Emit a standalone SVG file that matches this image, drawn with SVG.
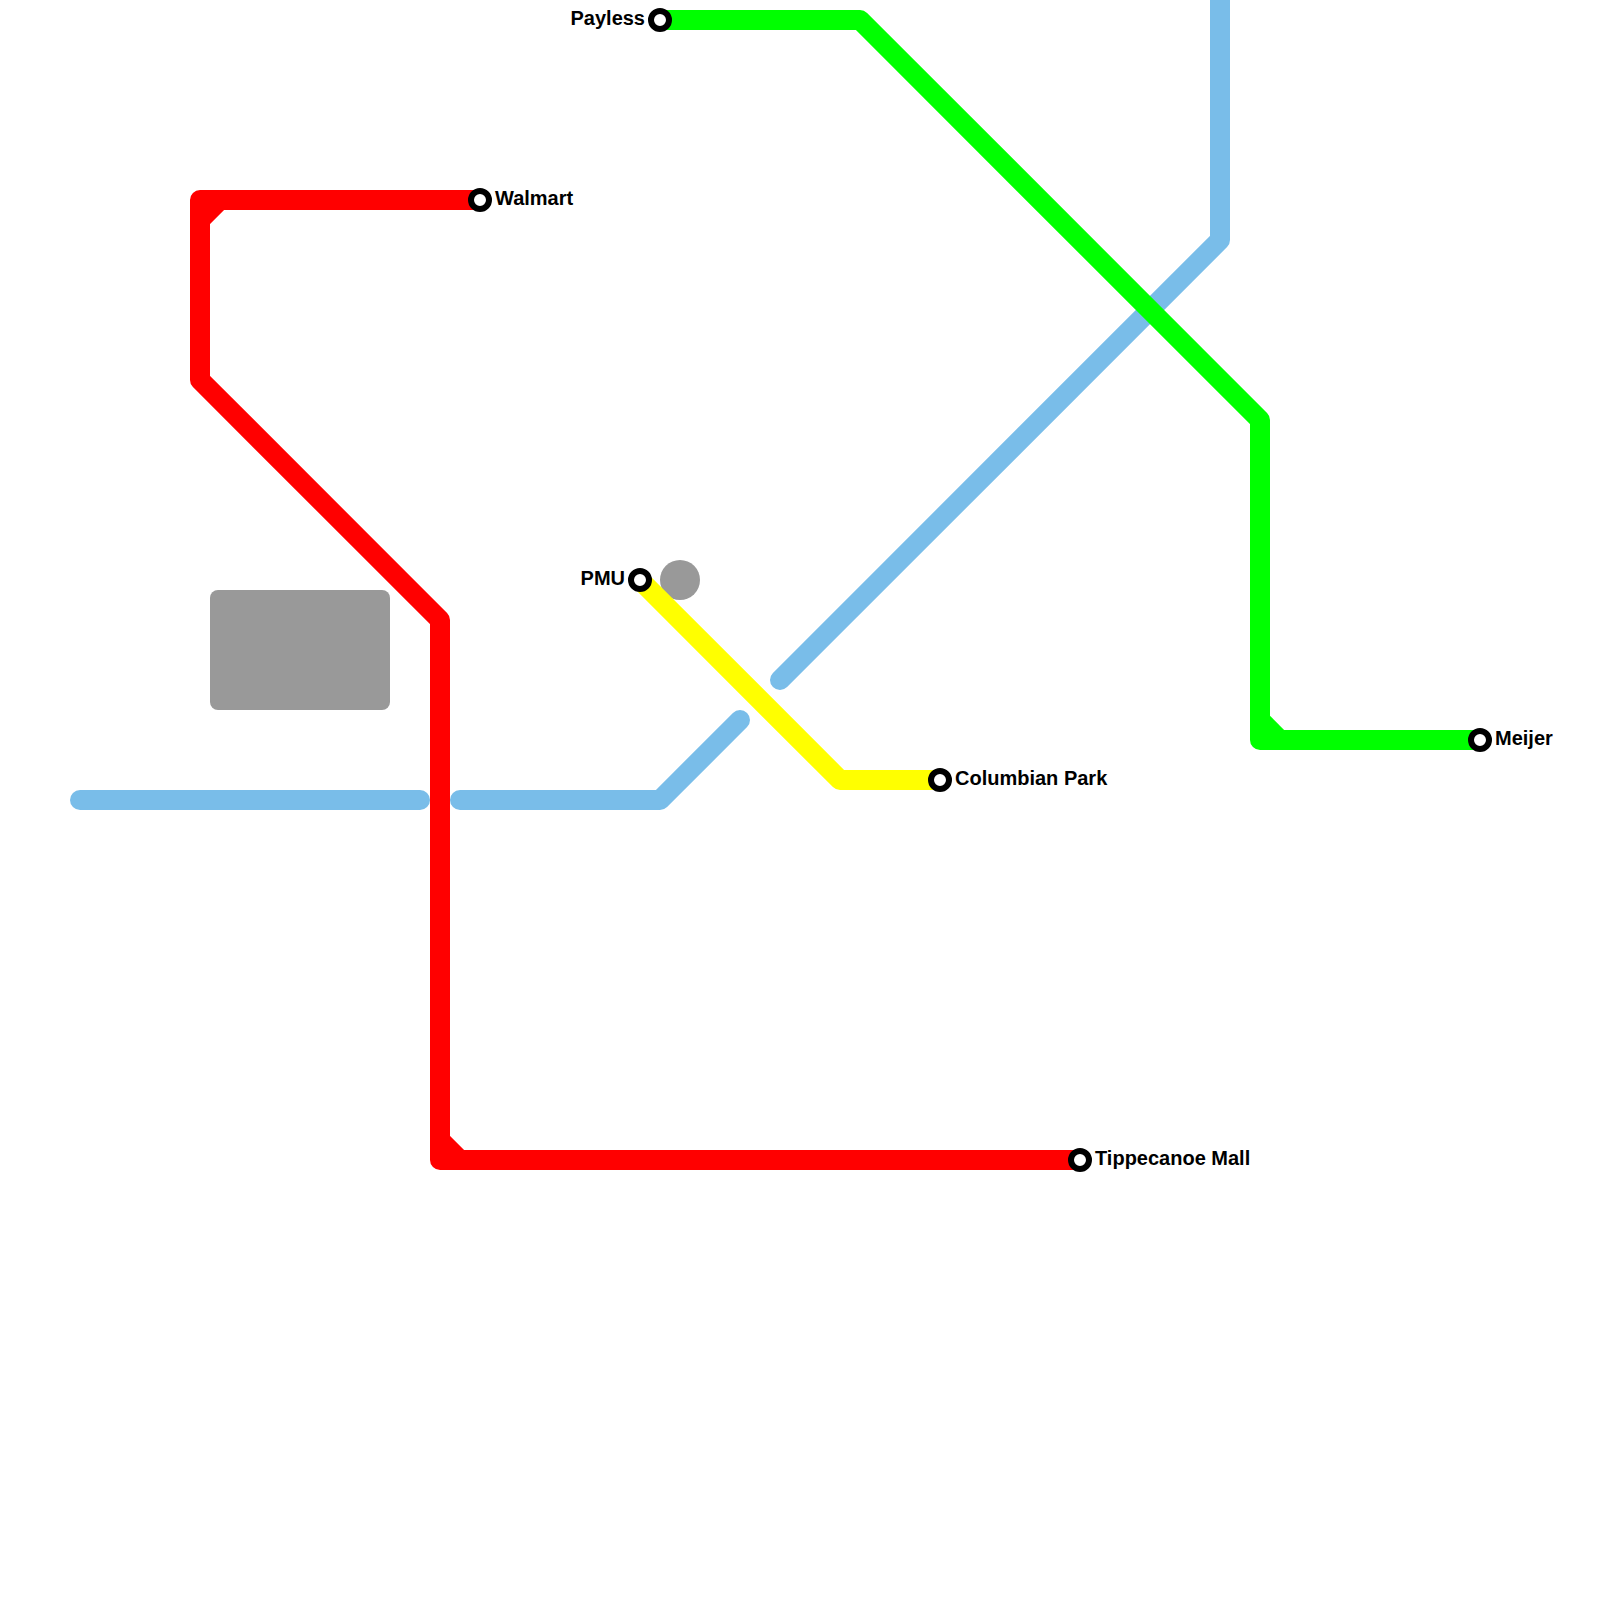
<svg xmlns="http://www.w3.org/2000/svg" width="1600" height="1600" viewBox="0 0 1600 1600">
<style>
.l{fill:none;stroke-width:20;stroke-linejoin:round;stroke-linecap:round}
.r{stroke:#ff0000}.g{stroke:#00ff00}.b{stroke:#79bde9}.y{stroke:#ffff00}
.s{fill:#fff;stroke:#000;stroke-width:6}
text{font-family:"Liberation Sans",Arial,sans-serif;font-size:20px;font-weight:bold;fill:#000}
</style>
<rect width="1600" height="1600" fill="#fff"/>
<g id="facilities">
<rect x="210" y="590" width="180" height="120" rx="8" fill="#999"/>
<circle cx="680" cy="580" r="20" fill="#999"/>
</g>
<g id="connectors">
<path class="l b" d="M80 800H420"/>
<path class="l b" d="M460 800H660L740 720"/>
<path class="l b" d="M780 680L1220 240V0"/>
<path class="l r" d="M480 200H200V380L440 620V1160H1080"/>
<path class="l r" d="M200 220L220 200M440 1140L460 1160"/>
<path class="l g" d="M660 20H860L1260 420V740H1480"/>
<path class="l g" d="M1260 720L1280 740"/>
<path class="l y" d="M640 580L840 780H940"/>
</g>
<g id="walmart"><circle class="s" cx="480" cy="200" r="9"/><text x="495" y="205">Walmart</text></g>
<g id="payless"><circle class="s" cx="660" cy="20" r="9"/><text x="645" y="25" text-anchor="end">Payless</text></g>
<g id="pmu"><circle class="s" cx="640" cy="580" r="9"/><text x="625" y="585" text-anchor="end">PMU</text></g>
<g id="columbian-park"><circle class="s" cx="940" cy="780" r="9"/><text x="955" y="785">Columbian Park</text></g>
<g id="tippecanoe-mall"><circle class="s" cx="1080" cy="1160" r="9"/><text x="1095" y="1165">Tippecanoe Mall</text></g>
<g id="meijer"><circle class="s" cx="1480" cy="740" r="9"/><text x="1495" y="745">Meijer</text></g>
</svg>
